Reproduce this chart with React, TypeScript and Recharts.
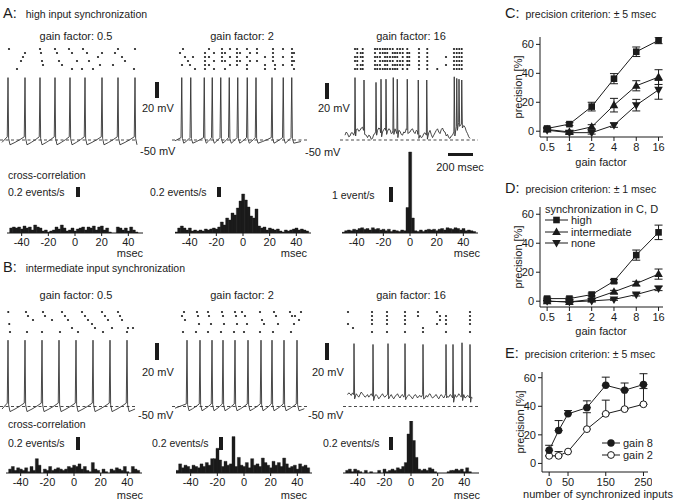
import React from "react";
import {
  LineChart,
  Line,
  XAxis,
  YAxis,
  ReferenceLine,
  ScatterChart,
  Scatter,
  BarChart,
  Bar,
  ErrorBar,
} from "recharts";

const FONT = '"Liberation Sans", Arial, Helvetica, sans-serif';
const INK = "#1b1b1b";

// ---------- C / D: precision vs gain factor ----------
const gainLabels = ["0.5", "1", "2", "4", "8", "16"];
const gainIdx = [0, 1, 2, 3, 4, 5];

const cHigh = [1.9, 4.9, 17, 36.3, 54.9, 62.8];
const cHighErr = [1, 1, 3, 3.5, 3.3, 2.3];
const cMid = [1.2, -0.5, 3, 18, 31.4, 37.4];
const cMidErr = [1, 1, 1.5, 4.7, 3.5, 5.1];
const cNone = [0.7, -1, -1, 4.2, 18, 28.6];
const cNoneErr = [1, 1, 1, 1.5, 4, 6.5];

const dHigh = [1.8, 1.8, 4.6, 13.8, 31.8, 47.5];
const dHighErr = [1, 1, 1, 1.2, 3.5, 5];
const dMid = [0, -0.5, 1.2, 6.5, 12.2, 18.7];
const dMidErr = [0.5, 0.5, 0.8, 1, 1.5, 3.5];
const dNone = [0, -0.5, 0.2, 1.2, 4.6, 8.8];
const dNoneErr = [0.5, 0.5, 0.5, 0.6, 1, 1.5];

// ---------- E: precision vs number of synchronized inputs ----------
const synInputs = [0, 25, 50, 100, 150, 200, 250];
const eGain8 = [9.2, 23, 34.7, 39, 54.7, 51.3, 55.2];
const eGain8Err = [3.5, 7, 2.3, 4.8, 5.7, 5, 7.6];
const eGain2 = [5.3, 5.3, 8.3, 24, 34.7, 38, 41.4];
const eGain2Err = [0, 3, 0, 11.5, 9.6, 13.3, 11];

// ---------- cross-correlation histograms (events/s, 2 ms bins) ----------
const bins = [
  -50, -48, -46, -44, -42, -40, -38, -36, -34, -32, -30, -28, -26, -24, -22, -20, -18,
  -16, -14, -12, -10, -8, -6, -4, -2, 0, 2, 4, 6, 8, 10, 12, 14, 16, 18, 20, 22, 24, 26,
  28, 30, 32, 34, 36, 38, 40, 42, 44, 46, 48, 50,
];
const histA1 = [
  0, 0.1, 0.12, 0.1, 0.12, 0.08, 0.14, 0.1, 0.12, 0.06, 0.16, 0.12, 0.1, 0.04, 0.06, 0.02,
  0.04, 0.06, 0.12, 0.08, 0.16, 0.1, 0.04, 0.06, 0.1, 0.04, 0.08, 0.1, 0.12, 0.06, 0.12,
  0.1, 0.14, 0.06, 0.12, 0.14, 0.06, 0.1, 0.02, 0, 0, 0.12, 0.1, 0.06, 0.1, 0.04, 0.12,
  0.06, 0.02, 0, 0,
];
const histA2 = [
  0.02, 0.1, 0.14, 0.1, 0.06, 0.1, 0.04, 0.06, 0.04, 0.06, 0.04, 0.08, 0.06, 0.08, 0.1,
  0.08, 0.12, 0.22, 0.16, 0.3, 0.26, 0.4, 0.36, 0.5, 0.64, 0.78, 0.66, 0.52, 0.34, 0.3,
  0.48, 0.14, 0.1, 0.12, 0.06, 0.1, 0.08, 0.06, 0.08, 0.04, 0.02, 0.06, 0.04, 0.06, 0.08,
  0.1, 0.06, 0.08, 0.06, 0.04, 0,
];
const histA3 = [
  0.05, 0.15, 0.2, 0.15, 0.25, 0.2, 0.3, 0.35, 0.25, 0.3, 0.2, 0.35, 0.25, 0.3, 0.2, 0.25,
  0.15, 0.25, 0.1, 0.2, 0.15, 0.1, 0.2, 0.15, 1.7, 5.4, 1.0, 0.15, 0.1, 0.2, 0.1, 0.2,
  0.25, 0.2, 0.25, 0.15, 0.25, 0.3, 0.2, 0.35, 0.3, 0.25, 0.35, 0.3, 0.2, 0.3, 0.15, 0.2,
  0.15, 0.1, 0,
];
const histB1 = [
  0, 0.06, 0.1, 0.04, 0.08, 0.06, 0.04, 0.08, 0.02, 0.1, 0.04, 0.22, 0.12, 0, 0.06, 0.04,
  0.1, 0.04, 0.06, 0.08, 0.06, 0.04, 0.06, 0.1, 0.08, 0.12, 0.1, 0.14, 0.06, 0.1, 0.04,
  0.02, 0.16, 0.06, 0.04, 0, 0.06, 0.02, 0, 0.06, 0.04, 0.08, 0.06, 0.04, 0.1, 0.02, 0,
  0.1, 0.06, 0.04, 0,
];
const histB2 = [
  0.04, 0.14, 0.08, 0.12, 0.1, 0.06, 0.12, 0.1, 0.08, 0.14, 0.1, 0.16, 0.12, 0.22, 0.22,
  0.38, 0.2, 0.1, 0.18, 0.12, 0.14, 0.56, 0.1, 0.24, 0.12, 0.1, 0.16, 0.08, 0.22, 0.12,
  0.14, 0.1, 0.23, 0.16, 0.12, 0.08, 0.18, 0.12, 0.16, 0.1, 0.23, 0.14, 0.08, 0.1, 0.12,
  0.06, 0.14, 0.1, 0.12, 0.08, 0,
];
const histB3 = [
  0, 0.04, 0.06, 0.02, 0.06, 0.04, 0.02, 0, 0.04, 0, 0.02, 0, 0, 0.04, 0, 0.06, 0.02,
  0.04, 0.06, 0.04, 0.08, 0.06, 0.1, 0.16, 0.6, 0.8, 0.5, 0.24, 0.06, 0.04, 0.06, 0.04,
  0.08, 0.06, 0.02, 0, 0, 0, 0, 0.02, 0.04, 0.04, 0.06, 0.04, 0.06, 0.02, 0.08, 0.02, 0,
  0, 0,
];

// ---------- membrane potential traces (ms, mV) ----------
const spikesA1 = [64, 200, 320, 440, 560, 680, 816, 944, 1080];
const spikesA2 = [94, 166, 274, 338, 406, 474, 542, 618, 688, 816, 906, 974];
const spikesA3 = [120, 192, 288, 328, 368, 426, 458, 538, 626, 694, 914, 934, 952, 974];
const peaksA3 = [28, 25, 22, 26, 26, 28, 26, 26, 25, 25, 29, 27, 26, 25];
const spikesB1 = [64, 200, 336, 472, 608, 744, 880, 1016];
const spikesB2 = [136, 240, 336, 424, 520, 624, 728, 816, 912, 1016];
const spikesB3 = [112, 264, 384, 520, 664, 848, 904, 976, 1040];
const peaksB3 = [24, 23, 24, 24, 23, 23, 23, 25, 23];

// subthreshold potential, sampled every 10 ms
const baseA3 = [
  -44, -40, -42, -46, -45, -41, -41, -44, -40, -37,
  -36, -39, -38, -35, -34, -38, -40, -44, -47, -44,
  -45, -49, -48, -43, -42, -39, -38, -35, -36, -41,
  -40, -37, -35, -38, -39, -36, -37, -42, -41, -38,
  -36, -40, -42, -38, -39, -43, -44, -40, -41, -36,
  -37, -41, -40, -37, -36, -40, -42, -38, -39, -43,
  -44, -47, -46, -42, -41, -44, -45, -41, -38, -43,
  -47, -44, -41, -38, -36, -40, -42, -37, -35, -39,
  -40, -45, -43, -47, -48, -45, -44, -40, -36, -33,
  -30, -28, -27, -30, -29, -32, -34, -39, -42, -46,
  -48,
];
const baseB3 = [
  -36, -34, -35, -37, -34, -36, -38, -35, -37, -39,
  -36, -33, -35, -37, -39, -38, -36, -39, -37, -35,
  -38, -40, -37, -36, -38, -41, -39, -37, -35, -38,
  -39, -37, -36, -40, -38, -36, -39, -41, -38, -37,
  -35, -38, -40, -37, -36, -39, -37, -40, -38, -36,
  -37, -39, -41, -38, -36, -37, -40, -38, -37, -39,
  -36, -38, -40, -37, -39, -36, -35, -38, -40, -39,
  -37, -36, -39, -41, -38, -36, -38, -40, -37, -35,
  -38, -39, -36, -37, -40, -38, -36, -39, -38, -35,
  -37, -39, -38, -36, -40, -39, -37, -38, -40, -39,
  -40,
];

// ---------- input rasters: [time ms, rows] ----------
type Col = [number, number[]];
const rasterA1: Col[] = [
  [72, [0]], [200, [1]], [184, [2]], [168, [3]], [136, [5]],
  [320, [0]], [328, [1]], [336, [3]], [344, [4]],
  [440, [0]], [456, [1]], [472, [3]], [496, [4]], [576, [5]],
  [552, [0]], [576, [1]], [616, [3]], [656, [5]],
  [664, [0]], [696, [1]], [712, [3]], [744, [5]],
  [784, [2]], [816, [1]], [800, [4]],
  [904, [4]], [920, [1]], [944, [0]], [976, [2]], [1000, [3]],
  [1080, [0]], [1072, [5]],
];
const rasterA2: Col[] = [
  [80, [1]], [104, [0]], [120, [2]], [144, [3]], [160, [4]], [184, [2]], [96, [4]], [200, [5]],
  [280, [1, 2, 3, 4, 5]], [312, [0, 2, 4]], [352, [1, 3, 5]], [416, [0, 1, 2, 3]],
  [440, [1, 3, 5]], [480, [0, 2, 4]], [536, [0, 1, 2, 3, 4]], [560, [1, 3]],
  [616, [0, 2, 4, 5]], [640, [1, 3]], [696, [0, 1, 3]], [760, [2, 4, 5]],
  [824, [0, 1, 2, 3]], [840, [4, 5]], [904, [0, 2, 4]], [976, [0, 1, 2, 3, 4]],
  [992, [1, 3, 5]],
];
const rasterA3: Col[] = [
  [120, [0, 2, 3, 5]], [138, [0, 1, 2, 3, 4, 5]], [166, [1, 2, 4, 5]], [182, [0, 1, 2, 3, 4, 5]],
  [280, [0, 1, 2, 3, 4, 5]], [298, [0, 2, 4, 5]], [320, [0, 1, 2, 3, 4, 5]], [342, [0, 1, 3, 5]],
  [360, [0, 1, 2, 3, 4, 5]], [378, [0, 1, 2, 3, 4, 5]], [400, [0, 2, 3, 5]],
  [422, [0, 1, 2, 3, 4, 5]], [440, [1, 2, 4, 5]], [458, [0, 1, 2, 3, 4, 5]], [480, [0, 1, 3, 4]],
  [502, [0, 1, 2, 3, 4, 5]], [538, [0, 1, 2, 3, 4, 5]], [554, [1, 2, 3, 4]],
  [632, [0, 1, 2, 3, 4, 5]], [698, [0, 1, 2, 3, 4, 5]], [778, [5]], [848, [2, 4]],
  [912, [0, 1, 2, 3, 4, 5]], [934, [0, 1, 2, 3, 4, 5]], [954, [0, 1, 2, 3, 4, 5]],
  [974, [0, 1, 2, 3, 4, 5]],
];
const rasterB1: Col[] = [
  [66, [0]], [74, [3]], [80, [5]], [208, [0]], [224, [1]], [264, [2]], [216, [5]],
  [344, [0]], [360, [1]], [416, [2]], [336, [5]], [496, [0]], [520, [1]], [544, [2]],
  [576, [4]], [480, [5]], [656, [0]], [680, [1]], [704, [2]], [736, [3]], [760, [4]],
  [624, [5]], [816, [0]], [840, [1]], [864, [2]], [896, [4]], [824, [5]], [944, [0]],
  [960, [1]], [976, [2]], [1024, [4]], [1016, [5]], [1064, [4]],
];
const rasterB2: Col[] = [
  [96, [1]], [112, [0]], [120, [2]], [104, [5]], [216, [0]], [224, [1]], [232, [3]],
  [208, [5]], [304, [0]], [312, [1]], [328, [3]], [304, [5]], [416, [0]], [424, [1]],
  [432, [3]], [408, [5]], [520, [0]], [528, [1]], [536, [3]], [512, [5]], [576, [0]],
  [600, [1]], [616, [3]], [592, [5]], [720, [0]], [736, [2]], [752, [3]], [720, [5]],
  [832, [0]], [848, [1]], [864, [3]], [824, [5]], [960, [0]], [976, [1]], [992, [3]],
  [968, [5]], [1000, [1]], [1032, [2]], [1048, [0]],
];
const rasterB3: Col[] = [
  [64, [0, 3]], [104, [4]], [256, [0, 1, 2, 3, 5]], [376, [0, 1, 2, 3, 5]],
  [520, [0, 1, 2, 3, 5]], [624, [0, 1]], [664, [4, 5]], [776, [0, 3]], [800, [1, 2]],
  [848, [1, 2, 3, 5]], [1040, [0, 1, 2, 3, 5]],
];

type Pt = { t: number; v: number };

// regular firing: spike, after-hyperpolarisation, slow ramp back to threshold
function regularTrace(spikes: number[], start: number, end: number, trough: number, pre: number) {
  const pts: Pt[] = [{ t: start, v: trough + 3 }];
  spikes.forEach((s, k) => {
    const next = k + 1 < spikes.length ? spikes[k + 1] : end + 80;
    pts.push({ t: s - 6, v: pre }, { t: s, v: 28 }, { t: s + 5, v: -48 }, { t: s + 16, v: trough });
    const span = next - 6 - (s + 16);
    pts.push(
      { t: s + 16 + span * 0.35, v: trough + (pre - trough) * 0.3 },
      { t: s + 16 + span * 0.7, v: trough + (pre - trough) * 0.65 }
    );
  });
  return pts.filter((p) => p.t >= start && p.t <= end).sort((a, b) => a.t - b.t);
}

// fluctuating membrane potential with spikes inserted
function noisyTrace(base: number[], start: number, spikes: number[], peaks: number[]) {
  const step = 10;
  const pts: Pt[] = base
    .map((v, i) => ({ t: start + i * step, v }))
    .filter((p) => spikes.every((s) => p.t < s - 5 || p.t > s + 8));
  spikes.forEach((s, k) => {
    const b = base[Math.min(base.length - 1, Math.max(0, Math.round((s - start) / step)))];
    pts.push({ t: s - 3, v: b }, { t: s, v: peaks[k] }, { t: s + 5, v: b - 5 });
  });
  return pts.sort((a, b) => a.t - b.t);
}

const traceA1 = regularTrace(spikesA1, 16, 1096, -56, -46);
const traceA2 = regularTrace(spikesA2, 40, 1080, -54, -47);
const traceA3 = noisyTrace(baseA3, 40, spikesA3, peaksA3);
const traceB1 = regularTrace(spikesB1, 16, 1096, -56, -46);
const traceB2 = regularTrace(spikesB2, 40, 1080, -55, -47);
const traceB3 = noisyTrace(baseB3, 60, spikesB3, peaksB3);

// ---------- small helpers ----------
function T({
  x,
  y,
  children,
  size = 11,
  anchor = "start",
}: {
  x: number;
  y: number;
  children: React.ReactNode;
  size?: number;
  anchor?: "start" | "middle" | "end";
}) {
  const tx = anchor === "middle" ? "-50%" : anchor === "end" ? "-100%" : "0";
  return (
    <div
      style={{
        position: "absolute",
        left: x,
        top: y,
        fontSize: size,
        lineHeight: 1,
        whiteSpace: "nowrap",
        transform: `translate(${tx}, -50%)`,
      }}
    >
      {children}
    </div>
  );
}

function ScaleBar({ x, y, w, h }: { x: number; y: number; w: number; h: number }) {
  return <div style={{ position: "absolute", left: x, top: y, width: w, height: h, background: INK }} />;
}

function PanelTitle({ x, y, letter, text, gap }: { x: number; y: number; letter: string; text: string; gap: number }) {
  return (
    <div style={{ position: "absolute", left: x, top: y, whiteSpace: "nowrap", lineHeight: 1, transform: "translateY(-50%)" }}>
      <span style={{ fontSize: 14.5 }}>{letter}:</span>
      <span style={{ fontSize: 10.5, marginLeft: gap }}>{text}</span>
    </div>
  );
}

function Raster({ left, top, cols }: { left: number; top: number; cols: Col[] }) {
  const pts = cols.flatMap(([t, rows]) => rows.map((r) => ({ t, r })));
  return (
    <div style={{ position: "absolute", left, top }}>
      <ScatterChart width={140} height={24} margin={{ top: 0, right: 0, bottom: 0, left: 0 }}>
        <XAxis dataKey="t" type="number" domain={[0, 1120]} hide />
        <YAxis dataKey="r" type="number" domain={[-0.5, 5.5]} reversed hide />
        <Scatter
          data={pts}
          isAnimationActive={false}
          shape={(p: any) => <circle cx={p.cx} cy={p.cy} r={1.1} fill={INK} />}
        />
      </ScatterChart>
    </div>
  );
}

function Trace({ left, top, height, data, dash }: { left: number; top: number; height: number; data: Pt[]; dash: [number, number] }) {
  return (
    <div style={{ position: "absolute", left, top }}>
      <LineChart width={140} height={height} data={data} margin={{ top: 0, right: 0, bottom: 0, left: 0 }}>
        <XAxis dataKey="t" type="number" domain={[0, 1120]} hide />
        <YAxis type="number" domain={[-60, 40]} hide />
        <ReferenceLine
          segment={[
            { x: dash[0], y: -50 },
            { x: dash[1], y: -50 },
          ]}
          stroke={INK}
          strokeWidth={0.8}
          strokeDasharray="3 2.5"
        />
        <Line type="linear" dataKey="v" stroke="#333" strokeWidth={0.9} dot={false} isAnimationActive={false} />
      </LineChart>
    </div>
  );
}

function Histo({ left, top, plotH, max, values }: { left: number; top: number; plotH: number; max: number; values: number[] }) {
  const data = bins.map((t, i) => ({ t, v: values[i] }));
  return (
    <div style={{ position: "absolute", left, top }}>
      <BarChart
        width={136}
        height={plotH + 22}
        data={data}
        margin={{ top: 0, right: 0, bottom: 0, left: 0 }}
        barCategoryGap={0}
        barGap={0}
      >
        <XAxis
          dataKey="t"
          ticks={[-40, -20, 0, 20, 40]}
          interval={0}
          height={22}
          tickSize={3}
          axisLine={{ stroke: INK }}
          tickLine={{ stroke: INK }}
          tick={{ fontSize: 11, fill: INK, fontFamily: FONT }}
        />
        <YAxis domain={[0, max]} hide allowDataOverflow />
        <Bar dataKey="v" fill={INK} stroke={INK} strokeWidth={0.4} isAnimationActive={false} />
      </BarChart>
    </div>
  );
}

type MarkKind = "square" | "up" | "down" | "dot" | "ring";

function mark(kind: MarkKind, cx: number, cy: number, key?: React.Key) {
  if (kind === "square") return <rect key={key} x={cx - 3.3} y={cy - 3.3} width={6.6} height={6.6} fill={INK} />;
  if (kind === "up")
    return <polygon key={key} points={`${cx},${cy - 4.6} ${cx - 4.3},${cy + 3} ${cx + 4.3},${cy + 3}`} fill={INK} />;
  if (kind === "down")
    return <polygon key={key} points={`${cx},${cy + 4.6} ${cx - 4.3},${cy - 3} ${cx + 4.3},${cy - 3}`} fill={INK} />;
  if (kind === "dot") return <circle key={key} cx={cx} cy={cy} r={3.7} fill={INK} />;
  return <circle key={key} cx={cx} cy={cy} r={3.4} fill="#fff" stroke={INK} strokeWidth={1} />;
}

const dotOf = (kind: MarkKind) => (p: any) => {
  if (p.cx == null || p.cy == null) return <g key={p.index} />;
  return mark(kind, p.cx, p.cy, p.index);
};

const axisTick = { fontSize: 11, fill: INK, fontFamily: FONT };
const yLabel = {
  value: "precision [%]",
  angle: -90,
  position: "insideLeft" as const,
  offset: 8,
  style: { textAnchor: "middle" as const, fontSize: 11, fill: INK, fontFamily: FONT },
};

function GainChart({
  left,
  top,
  high,
  highErr,
  mid,
  midErr,
  none,
  noneErr,
}: {
  left: number;
  top: number;
  high: number[];
  highErr: number[];
  mid: number[];
  midErr: number[];
  none: number[];
  noneErr: number[];
}) {
  const rows = gainIdx.map((i) => ({
    i,
    high: high[i],
    highErr: highErr[i],
    mid: mid[i],
    midErr: midErr[i],
    none: none[i],
    noneErr: noneErr[i],
  }));
  return (
    <div style={{ position: "absolute", left, top }}>
      <LineChart width={157} height={130} data={rows} margin={{ top: 0, right: 4, bottom: 0, left: 0 }}>
        <XAxis
          dataKey="i"
          type="number"
          domain={[-0.32, 5.2]}
          ticks={gainIdx}
          tickFormatter={(i: number) => gainLabels[i]}
          height={30}
          tickSize={4}
          axisLine={{ stroke: INK }}
          tickLine={{ stroke: INK }}
          tick={axisTick}
        />
        <YAxis
          type="number"
          domain={[-4, 65]}
          ticks={[0, 20, 40, 60]}
          width={30}
          tickSize={4}
          axisLine={{ stroke: INK }}
          tickLine={{ stroke: INK }}
          tick={axisTick}
          label={yLabel}
        />
        <Line dataKey="none" stroke={INK} strokeWidth={1} dot={dotOf("down")} isAnimationActive={false}>
          <ErrorBar dataKey="noneErr" width={4} stroke={INK} strokeWidth={1} />
        </Line>
        <Line dataKey="mid" stroke={INK} strokeWidth={1} dot={dotOf("up")} isAnimationActive={false}>
          <ErrorBar dataKey="midErr" width={4} stroke={INK} strokeWidth={1} />
        </Line>
        <Line dataKey="high" stroke={INK} strokeWidth={1} dot={dotOf("square")} isAnimationActive={false}>
          <ErrorBar dataKey="highErr" width={4} stroke={INK} strokeWidth={1} />
        </Line>
      </LineChart>
    </div>
  );
}

function InputsChart({ left, top }: { left: number; top: number }) {
  const rows = synInputs.map((n, k) => ({
    n,
    g8: eGain8[k],
    g8Err: [0, eGain8Err[k]],
    g2: eGain2[k],
    g2Err: [0, eGain2Err[k]],
  }));
  return (
    <div style={{ position: "absolute", left, top }}>
      <LineChart width={140} height={129} data={rows} margin={{ top: 0, right: 4, bottom: 0, left: 0 }}>
        <XAxis
          dataKey="n"
          type="number"
          domain={[-19, 262]}
          ticks={[0, 50, 150, 250]}
          height={29}
          tickSize={4}
          axisLine={{ stroke: INK }}
          tickLine={{ stroke: INK }}
          tick={axisTick}
        />
        <YAxis
          type="number"
          domain={[-6, 64]}
          ticks={[0, 20, 40, 60]}
          width={30}
          tickSize={4}
          axisLine={{ stroke: INK }}
          tickLine={{ stroke: INK }}
          tick={axisTick}
          label={yLabel}
        />
        <Line dataKey="g2" stroke={INK} strokeWidth={1} dot={dotOf("ring")} isAnimationActive={false}>
          <ErrorBar dataKey="g2Err" width={4} stroke={INK} strokeWidth={1} />
        </Line>
        <Line dataKey="g8" stroke={INK} strokeWidth={1} dot={dotOf("dot")} isAnimationActive={false}>
          <ErrorBar dataKey="g8Err" width={4} stroke={INK} strokeWidth={1} />
        </Line>
      </LineChart>
    </div>
  );
}

function LegendRow({ x, y, w, kind, label }: { x: number; y: number; w: number; kind: MarkKind; label: string }) {
  return (
    <>
      <svg style={{ position: "absolute", left: x, top: y - 6 }} width={w} height={12}>
        <line x1={0} x2={w} y1={6} y2={6} stroke={INK} strokeWidth={1} />
        {mark(kind, w / 2, 6)}
      </svg>
      <T x={x + w + 3} y={y}>
        {label}
      </T>
    </>
  );
}

export default function App() {
  return (
    <div
      style={{
        position: "absolute",
        left: 0,
        top: 0,
        width: 676,
        height: 502,
        background: "#fff",
        overflow: "hidden",
        fontFamily: FONT,
        color: INK,
      }}
    >
      {/* ---------------- A ---------------- */}
      <PanelTitle x={3} y={13} letter="A" text="high input synchronization" gap={9} />
      <T x={76} y={36} anchor="middle">gain factor: 0.5</T>
      <T x={242} y={36} anchor="middle">gain factor: 2</T>
      <T x={411} y={36} anchor="middle">gain factor: 16</T>

      <Raster left={0} top={47} cols={rasterA1} />
      <Raster left={170} top={47} cols={rasterA2} />
      <Raster left={340} top={47} cols={rasterA3} />

      <Trace left={0} top={68} height={80} data={traceA1} dash={[0, 1096]} />
      <Trace left={170} top={68} height={80} data={traceA2} dash={[16, 1096]} />
      <Trace left={340} top={68} height={80} data={traceA3} dash={[0, 1104]} />

      <ScaleBar x={155} y={82} w={3.5} h={16} />
      <T x={142} y={108}>20 mV</T>
      <T x={140} y={151}>-50 mV</T>
      <ScaleBar x={325} y={83} w={3.5} h={16} />
      <T x={318} y={108}>20 mV</T>
      <T x={305} y={152}>-50 mV</T>
      <ScaleBar x={448} y={153} w={25} h={3} />
      <T x={460} y={167} anchor="middle">200 msec</T>

      <T x={8} y={175} size={10.5}>cross-correlation</T>
      <T x={8} y={192} size={10.5}>0.2 events/s</T>
      <ScaleBar x={76} y={187} w={3.5} h={10} />
      <T x={150} y={192} size={10.5}>0.2 events/s</T>
      <ScaleBar x={217} y={187} w={3.5} h={10} />
      <T x={332} y={195} size={10.5}>1 event/s</T>
      <ScaleBar x={389} y={187} w={3.5} h={15} />

      <Histo left={7} top={188} plotH={45} max={0.9} values={histA1} />
      <Histo left={175} top={188} plotH={45} max={0.9} values={histA2} />
      <Histo left={342} top={143} plotH={90} max={6} values={histA3} />
      <T x={143} y={253} anchor="end">msec</T>
      <T x={307} y={253} anchor="end">msec</T>
      <T x={480} y={253} anchor="end">msec</T>

      {/* ---------------- B ---------------- */}
      <PanelTitle x={3} y={267} letter="B" text="intermediate input synchronization" gap={9} />
      <T x={76} y={295} anchor="middle">gain factor: 0.5</T>
      <T x={242} y={295} anchor="middle">gain factor: 2</T>
      <T x={411} y={295} anchor="middle">gain factor: 16</T>

      <Raster left={0} top={310} cols={rasterB1} />
      <Raster left={170} top={310} cols={rasterB2} />
      <Raster left={340} top={310} cols={rasterB3} />

      <Trace left={0} top={330} height={85} data={traceB1} dash={[0, 1096]} />
      <Trace left={170} top={330} height={85} data={traceB2} dash={[16, 1096]} />
      <Trace left={340} top={330} height={85} data={traceB3} dash={[24, 1120]} />

      <ScaleBar x={155} y={343} w={3.5} h={17} />
      <T x={142} y={372}>20 mV</T>
      <T x={138} y={415}>-50 mV</T>
      <ScaleBar x={325} y={343} w={3.5} h={17} />
      <T x={312} y={372}>20 mV</T>
      <T x={308} y={415}>-50 mV</T>

      <T x={8} y={424} size={10.5}>cross-correlation</T>
      <T x={8} y={443} size={10.5}>0.2 events/s</T>
      <ScaleBar x={76} y={437} w={3.5} h={13} />
      <T x={152} y={443} size={10.5}>0.2 events/s</T>
      <ScaleBar x={219} y={437} w={3.5} h={13} />
      <T x={323} y={443} size={10.5}>0.2 events/s</T>
      <ScaleBar x={389} y={437} w={3.5} h={13} />

      <Histo left={6} top={421} plotH={52} max={0.8} values={histB1} />
      <Histo left={176} top={421} plotH={52} max={0.8} values={histB2} />
      <Histo left={343} top={421} plotH={52} max={0.8} values={histB3} />
      <T x={143} y={495} anchor="end">msec</T>
      <T x={307} y={495} anchor="end">msec</T>
      <T x={480} y={495} anchor="end">msec</T>

      {/* ---------------- C, D, E ---------------- */}
      <PanelTitle x={505} y={13} letter="C" text="precision criterion: ± 5 msec" gap={6} />
      <GainChart left={510} top={37} high={cHigh} highErr={cHighErr} mid={cMid} midErr={cMidErr} none={cNone} noneErr={cNoneErr} />
      <T x={601} y={162} anchor="middle">gain factor</T>

      <PanelTitle x={505} y={188} letter="D" text="precision criterion: ± 1 msec" gap={6} />
      <GainChart left={510} top={207} high={dHigh} highErr={dHighErr} mid={dMid} midErr={dMidErr} none={dNone} noneErr={dNoneErr} />
      <T x={601} y={331} anchor="middle">gain factor</T>
      <T x={545} y={209}>synchronization in C, D</T>
      <LegendRow x={545} y={220} w={23} kind="square" label="high" />
      <LegendRow x={545} y={232} w={23} kind="up" label="intermediate" />
      <LegendRow x={545} y={243} w={23} kind="down" label="none" />

      <PanelTitle x={505} y={353} letter="E" text="precision criterion: ± 5 msec" gap={6} />
      <InputsChart left={512} top={372} />
      <T x={598} y={494} anchor="middle">number of synchronized inputs</T>
      <LegendRow x={602} y={443} w={18} kind="dot" label="gain 8" />
      <LegendRow x={602} y={455} w={18} kind="ring" label="gain 2" />
    </div>
  );
}
